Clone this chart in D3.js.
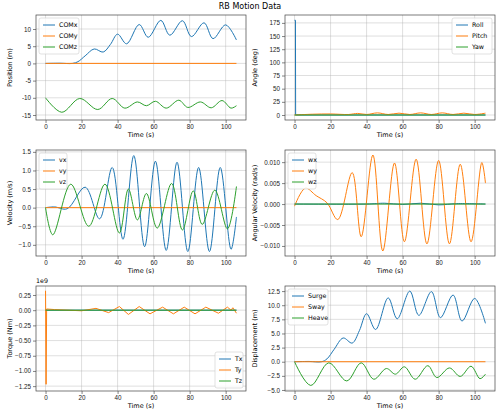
<!DOCTYPE html><html><head><meta charset="utf-8"><script src="https://d3js.org/d3.v7.min.js"></script>
<style>body{margin:0;background:#fff}svg{font-family:"DejaVu Sans",sans-serif}</style></head><body>
<svg id="c" width="500" height="414"></svg>
<script>
const title="RB Motion Data";
const xTicks=[0,20,40,60,80,100];
// keypoints [t, value]
const comx=[[0,0],[8,0.05],[15,0],[18,0.5],[22,2.2],[27,4.2],[32,3.3],[36,5.5],[40,8.5],[45,5.7],[52,11.3],[57,7.6],[64,12.5],[69,8.2],[76,12.4],[81,7.8],[88,11.8],[93,7.2],[100,11.2],[106,6.8]];
const comy=[[0,0],[106,0]];
const comz=[[0,-10],[9,-14.2],[19,-10.2],[29,-13.4],[37,-10.2],[44,-13],[51,-11.2],[56,-12.3],[61,-11],[67,-13],[74,-10.7],[79,-12.8],[86,-11.2],[92,-12.9],[98,-10.8],[103,-13],[106,-12.3]];
const roll=[[0,180],[0.5,180],[0.6,0],[106,0]];
const pitch=[[0,0],[10,1.5],[20,2],[30,1],[35,3],[40,1],[46,4],[52,1],[58,3.5],[64,1],[70,4],[76,1],[82,4],[88,1],[94,3.5],[100,1],[106,3.5]];
const yaw=[[0,0],[106,0]];
const vx=[[0,0],[5,0.02],[12,-0.03],[22,0.55],[30,-0.3],[37,1.08],[43,-0.85],[49,1.4],[55,-1.05],[61,1.25],[67,-1.15],[73,1.22],[79,-1.18],[85,1.08],[91,-1.18],[97,1.08],[103,-1.12],[106,-0.25]];
const vy=[[0,0],[106,0]];
const vz=[[0,0],[4,-0.73],[14,0.63],[24,-0.5],[33,0.63],[41,-0.68],[46,0.5],[51,-0.33],[56,0.38],[62,-0.55],[70,0.65],[76,-0.6],[82,0.45],[87,-0.45],[94,0.47],[101,-0.57],[106,0.57]];
const wx=[[0,0],[40,0],[50,0.0002],[60,-0.0001],[70,0.0002],[80,-0.0002],[90,0.0001],[106,0]];
const wy=[[0,-0.0005],[6,0.0038],[12,0.002],[18,0.0003],[24,-0.0037],[32,0.0075],[37,-0.0078],[43.5,0.0117],[49,-0.0112],[55.5,0.0098],[61,-0.009],[67.5,0.0107],[73.5,-0.0095],[80,0.0104],[86,-0.0095],[92,0.0095],[98,-0.009],[104,0.0099],[106,0.005]];
const wz=[[0,0],[106,0]];
const tx=[[0,0],[106,0]];
const ty=[[0,0.32],[0.3,-1.22],[0.6,0.02],[5,0.01],[20,-0.01],[28,0.03],[35,-0.04],[41,0.06],[46,-0.07],[52,0.06],[58,-0.06],[65,0.05],[71,-0.06],[77,0.05],[83,-0.06],[89,0.05],[96,-0.05],[101,0.05],[103,0],[104,0.04],[106,-0.05]];
const tz=[[0,0],[106,0]];
const surge=comx;
const sway=[[0,0],[106,0]];
const heave=[[0,0],[9,-4.2],[19,-0.2],[29,-3.4],[37,-0.2],[44,-3.1],[51,-1.2],[56,-2.2],[61,-0.9],[67,-3.1],[74,-0.7],[79,-2.8],[86,-1.1],[92,-2.6],[98,-0.8],[103,-3.0],[106,-2.2]];
const colors=["#1f77b4","#ff7f0e","#2ca02c"];
const panels=[
 {x0:36,x1:246,y0:15,y1:120,yd:[-16.45,14.07],yt:[-15,-10,-5,0,5,10],fmt:d=>d,yl:"Position (m)",names:["COMx","COMy","COMz"],data:[comx,comy,comz],leg:"tl"},
 {x0:285,x1:495,y0:15,y1:120,yd:[-9.5,190],yt:[0,25,50,75,100,125,150,175],fmt:d=>d,yl:"Angle (deg)",names:["Roll","Pitch","Yaw"],data:[roll,pitch,yaw],leg:"tr",sharp:[true,false,false]},
 {x0:36,x1:246,y0:150,y1:256,yd:[-1.3,1.55],yt:[-1,-0.5,0,0.5,1,1.5],fmt:d3.format(".1f"),yl:"Velocity (m/s)",names:["vx","vy","vz"],data:[vx,vy,vz],leg:"tl"},
 {x0:285,x1:495,y0:150,y1:256,yd:[-0.0124,0.0129],yt:[-0.01,-0.005,0,0.005,0.01],fmt:d3.format(".3f"),yl:"Angular Velocity (rad/s)",names:["wx","wy","wz"],data:[wx,wy,wz],leg:"tl"},
 {x0:36,x1:246,y0:286,y1:391,yd:[-1.33,0.398],yt:[-1.25,-1,-0.75,-0.5,-0.25,0,0.25],fmt:d3.format(".2f"),yl:"Torque (Nm)",names:["Tx","Ty","Tz"],data:[tx,ty,tz],leg:"br",sharp:[false,true,false],exp:"1e9"},
 {x0:285,x1:495,y0:286,y1:391,yd:[-5.18,13.4],yt:[-5,-2.5,0,2.5,5,7.5,10,12.5],fmt:d3.format(".1f"),yl:"Displacement (m)",names:["Surge","Sway","Heave"],data:[surge,sway,heave],leg:"tl"}
];
const svg=d3.select("#c");
svg.append("text").attr("x",250).attr("y",9).attr("text-anchor","middle").attr("font-size",8).text(title);
panels.forEach(p=>{
 const g=svg.append("g");
 const pw=p.x1-p.x0;
 const x=d3.scaleLinear().domain([-5.3,111.3]).range([p.x0,p.x1]);
 const y=d3.scaleLinear().domain(p.yd).range([p.y1,p.y0]);
 g.append("g").selectAll("line").data(xTicks).join("line").attr("x1",d=>x(d)).attr("x2",d=>x(d)).attr("y1",p.y0).attr("y2",p.y1).attr("stroke","#b0b0b0").attr("stroke-opacity",0.5).attr("stroke-width",0.8);
 g.append("g").selectAll("line").data(p.yt).join("line").attr("y1",d=>y(d)).attr("y2",d=>y(d)).attr("x1",p.x0).attr("x2",p.x1).attr("stroke","#b0b0b0").attr("stroke-opacity",0.5).attr("stroke-width",0.8);
 const xa=g.append("g").attr("transform",`translate(0,${p.y1})`).call(d3.axisBottom(x).tickValues(xTicks).tickSize(3).tickPadding(2));
 const ya=g.append("g").attr("transform",`translate(${p.x0},0)`).call(d3.axisLeft(y).tickValues(p.yt).tickFormat(p.fmt).tickSize(3).tickPadding(2));
 [xa,ya].forEach(a=>{a.select(".domain").remove();a.selectAll("text").attr("font-size",6.3).attr("fill","#222");a.selectAll("line").attr("stroke","#333").attr("stroke-width",0.6);});
 p.data.forEach((d,i)=>{
  const ln=d3.line().x(e=>x(e[0])).y(e=>y(e[1])).curve(p.sharp&&p.sharp[i]?d3.curveLinear:d3.curveCatmullRom.alpha(0.5));
  g.append("path").datum(d).attr("d",ln).attr("fill","none").attr("stroke",colors[i]).attr("stroke-width",1);
 });
 g.append("rect").attr("x",p.x0).attr("y",p.y0).attr("width",pw).attr("height",p.y1-p.y0).attr("fill","none").attr("stroke","#444").attr("stroke-width",0.7);
 g.append("text").attr("x",(p.x0+p.x1)/2).attr("y",p.y1+17).attr("text-anchor","middle").attr("font-size",6.5).text("Time (s)");
 const ylx=p.x0-(p.x0<100?24:28);
 g.append("text").attr("transform",`translate(${ylx},${(p.y0+p.y1)/2}) rotate(-90)`).attr("text-anchor","middle").attr("font-size",6.5).text(p.yl);
 if(p.exp) g.append("text").attr("x",p.x0).attr("y",p.y0-3).attr("font-size",6.3).text(p.exp);
 const lw=p.names[0].length>3?40:28, lh=36;
 let lx=p.leg==="tl"||p.leg==="bl"?p.x0+3:p.x1-3-lw;
 let ly=p.leg[0]==="t"?p.y0+3:p.y1-3-lh;
 const L=g.append("g").attr("transform",`translate(${lx},${ly})`);
 L.append("rect").attr("width",lw).attr("height",lh).attr("rx",2).attr("fill","#fff").attr("fill-opacity",0.8).attr("stroke","#ccc").attr("stroke-width",0.6);
 p.names.forEach((n,i)=>{
  L.append("line").attr("x1",4).attr("x2",16).attr("y1",7+i*11).attr("y2",7+i*11).attr("stroke",colors[i]).attr("stroke-width",1);
  L.append("text").attr("x",20).attr("y",9.3+i*11).attr("font-size",6.3).text(n);
 });
});
</script></body></html>
